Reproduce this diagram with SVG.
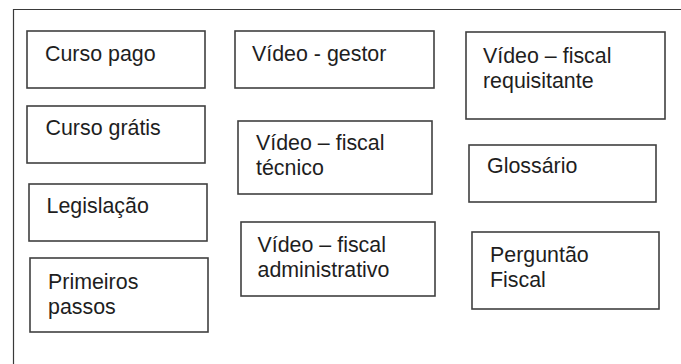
<svg xmlns="http://www.w3.org/2000/svg" width="681" height="364" viewBox="0 0 681 364">
<style>
.frame{fill:none;stroke:#3a3a3a;stroke-width:1.2}
.box{fill:#ffffff;stroke:#404040;stroke-width:1.6}
.t{font-family:"Liberation Sans",Arial,sans-serif;font-size:21.4px;fill:#1e1e1e}
</style>
<rect width="681" height="364" fill="#ffffff"/>
<path class="frame" d="M13.5,364 V9.5 H681"/>
<g id="connectors"></g>
<g id="curso-pago"><rect class="box" x="27" y="31" width="178" height="57"/><text class="t" x="45" y="60.5">Curso pago</text></g>
<g id="curso-gratis"><rect class="box" x="27" y="106" width="178" height="57"/><text class="t" x="45.5" y="135">Curso grátis</text></g>
<g id="legislacao"><rect class="box" x="29" y="184" width="178" height="57"/><text class="t" x="46.5" y="213">Legislação</text></g>
<g id="primeiros-passos"><rect class="box" x="30" y="258" width="178" height="74"/><text class="t" x="48" y="289">Primeiros</text><text class="t" x="48" y="314">passos</text></g>
<g id="video-gestor"><rect class="box" x="235" y="31" width="199" height="57"/><text class="t" x="252" y="60.5">Vídeo - gestor</text></g>
<g id="video-fiscal-tecnico"><rect class="box" x="238" y="121" width="194" height="73"/><text class="t" x="256" y="150">Vídeo – fiscal</text><text class="t" x="256" y="175">técnico</text></g>
<g id="video-fiscal-administrativo"><rect class="box" x="241" y="222" width="194" height="74"/><text class="t" x="257.5" y="251.5">Vídeo – fiscal</text><text class="t" x="257.5" y="276.5">administrativo</text></g>
<g id="video-fiscal-requisitante"><rect class="box" x="466" y="32" width="199" height="87"/><text class="t" x="483" y="62.5">Vídeo – fiscal</text><text class="t" x="483" y="87.5">requisitante</text></g>
<g id="glossario"><rect class="box" x="469" y="145" width="187" height="57"/><text class="t" x="487" y="173">Glossário</text></g>
<g id="perguntao-fiscal"><rect class="box" x="472" y="232" width="187" height="77"/><text class="t" x="490" y="262">Perguntão</text><text class="t" x="490" y="287">Fiscal</text></g>
</svg>
